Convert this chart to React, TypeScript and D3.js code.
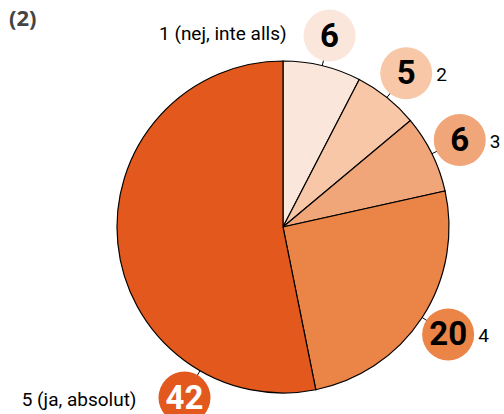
import React from "react";
import * as d3 from "d3";

const categories = ["1 (nej, inte alls)", "2", "3", "4", "5 (ja, absolut)"];
const values = [6, 5, 6, 20, 42];
const colors = ["#fbe6db", "#f8c7a7", "#f0a679", "#eb8447", "#e2581d"];
const numberColors = ["#000", "#000", "#000", "#000", "#fff"];
const title = "(2)";

export default function App() {
  const W = 504, H = 414;
  const cx = 283, cy = 227, R = 166;
  const bubbleR = 26, bubbleDist = 197;
  const pie = d3.pie<number>().sort(null).value((d) => d);
  const arcs = pie(values);
  const arcGen = d3.arc<d3.PieArcDatum<number>>().innerRadius(0).outerRadius(R);
  const labelAngle = (i: number, a: d3.PieArcDatum<number>) =>
    i === 4 ? (210 * Math.PI) / 180 : (a.startAngle + a.endAngle) / 2;
  const font = "'Roboto', sans-serif";
  return (
    <svg width={W} height={H} style={{ position: "absolute", left: 0, top: 0 }}>
      <text x={9} y={26} fontFamily="'Open Sans', sans-serif" fontWeight={700} fontSize={22} fill="#444">
        {title}
      </text>
      <g transform={`translate(${cx},${cy})`}>
        {arcs.map((a, i) => (
          <path key={i} d={arcGen(a) || ""} fill={colors[i]} stroke="#000" strokeWidth={1.2} />
        ))}
        {arcs.map((a, i) => {
          const ang = labelAngle(i, a);
          const sx = Math.sin(ang), sy = -Math.cos(ang);
          const bx = sx * bubbleDist, by = sy * bubbleDist;
          const right = i >= 1 && i <= 3;
          const textX = right ? bx + bubbleR + 4 : bx - bubbleR - 22;
          const textY = by + 8;
          return (
            <g key={i}>
              <line x1={sx * R} y1={sy * R} x2={sx * (bubbleDist - bubbleR + 1)} y2={sy * (bubbleDist - bubbleR + 1)} stroke="#000" strokeWidth={1} />
              <circle cx={bx} cy={by} r={bubbleR} fill={colors[i]} />
              <text x={bx} y={by + 11} textAnchor="middle" fontFamily={font} fontWeight={700} fontSize={33} fill={numberColors[i]}>
                {values[i]}
              </text>
              {i === 0 ? (
                <text x={bx - bubbleR - 17} y={by + 4} textAnchor="end" fontFamily={font} fontSize={19} fill="#000">
                  {categories[i]}
                </text>
              ) : (
                <text x={textX} y={textY} textAnchor={right ? "start" : "end"} fontFamily={font} fontSize={19} fill="#000">
                  {categories[i]}
                </text>
              )}
            </g>
          );
        })}
      </g>
    </svg>
  );
}
